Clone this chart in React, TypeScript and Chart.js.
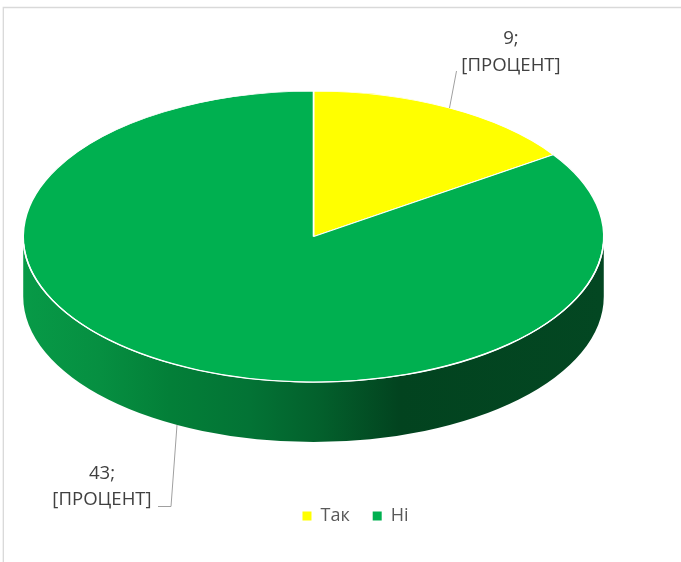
import React, { useEffect, useRef } from "react";
import { Chart, registerables } from "chart.js";

Chart.register(...registerables);

const categories = ["Так", "Ні"];
const values = [9, 43];
const sliceColors = ["#FFFF00", "#00B050"];
const percentPlaceholder = "[ПРОЦЕНТ]";

const TAU = Math.PI * 2;
const CENTER_X = 313.5;
const CENTER_Y = 236.6;
const STRETCH_X = 1.995;
const DEPTH = 60;
const PERSPECTIVE = 0.77;

const project = (a: number) => {
  const t = a + Math.PI / 2;
  let p = Math.atan2(PERSPECTIVE * Math.sin(t), Math.cos(t));
  while (p < t - Math.PI) p += TAU;
  while (p > t + Math.PI) p -= TAU;
  return p - Math.PI / 2;
};

const pie3d = {
  id: "pie3d",
  afterDatasetsUpdate(chart: any) {
    chart.getDatasetMeta(0).data.forEach((arc: any) => {
      const s = project(arc.startAngle);
      const e = project(arc.endAngle);
      arc.startAngle = s;
      arc.endAngle = e;
      arc.circumference = e - s;
    });
  },
  afterLayout(chart: any) {
    const l = chart.legend;
    l.left += 42;
    l.right += 42;
    l.top -= 3;
    l.bottom -= 3;
  },
  beforeDraw(chart: any) {
    const { ctx, width, height } = chart;
    ctx.save();
    ctx.strokeStyle = "#D9D9D9";
    ctx.lineWidth = 1.3;
    ctx.beginPath();
    ctx.moveTo(3.3, height);
    ctx.lineTo(3.3, 7.5);
    ctx.lineTo(width, 7.5);
    ctx.stroke();
    ctx.restore();
  },
  beforeDatasetsDraw(chart: any) {
    const { ctx } = chart;
    const arcs = chart.getDatasetMeta(0).data;
    const rx = arcs[0].outerRadius * STRETCH_X;
    const ry = arcs[0].outerRadius;
    const x0 = CENTER_X - rx;
    const w = rx * 2;
    const g = ctx.createLinearGradient(x0, 0, x0 + w, 0);
    const stops: [number, string][] = [
      [23, "#079A47"],
      [100, "#068F41"],
      [170, "#037F38"],
      [250, "#037335"],
      [320, "#03602C"],
      [400, "#02431F"],
      [604, "#034722"],
    ];
    stops.forEach(([x, c]) => g.addColorStop(Math.min(1, Math.max(0, (x - x0) / w)), c));
    ctx.save();
    ctx.fillStyle = g;
    ctx.beginPath();
    ctx.ellipse(CENTER_X, CENTER_Y, rx, ry, 0, 0, Math.PI);
    ctx.ellipse(CENTER_X, CENTER_Y + DEPTH, rx, ry, 0, Math.PI, 0, true);
    ctx.closePath();
    ctx.fill();
    ctx.restore();

    ctx.save();
    const a = arcs[0];
    ctx.translate(CENTER_X, CENTER_Y);
    ctx.scale(STRETCH_X, 1);
    ctx.translate(-a.x, -a.y);
  },
  afterDatasetsDraw(chart: any) {
    const { ctx } = chart;
    ctx.restore();

    const r = chart.getDatasetMeta(0).data[0].outerRadius;
    ctx.save();
    ctx.strokeStyle = "#FFFFFF";
    ctx.lineWidth = 1.4;
    ctx.beginPath();
    ctx.ellipse(CENTER_X, CENTER_Y, r * STRETCH_X, r, 0, 0.05, Math.PI - 0.05);
    ctx.stroke();

    ctx.strokeStyle = "#A0A0A0";
    ctx.lineWidth = 1;
    ctx.beginPath();
    ctx.moveTo(449.5, 108);
    ctx.lineTo(456.5, 71);
    ctx.moveTo(177, 425);
    ctx.lineTo(171, 506.5);
    ctx.lineTo(158, 506.5);
    ctx.stroke();

    ctx.fillStyle = "#404040";
    ctx.font = '18.6px "Open Sans"';
    ctx.textAlign = "center";
    ctx.textBaseline = "alphabetic";
    ctx.fillText(`${values[0]};`, 511, 44);
    ctx.fillText(percentPlaceholder, 511, 71);
    ctx.fillText(`${values[1]};`, 102, 479);
    ctx.fillText(percentPlaceholder, 102, 505);
    ctx.restore();
  },
};

export default function App() {
  const ref = useRef<HTMLCanvasElement>(null);
  useEffect(() => {
    const chart = new Chart(ref.current as HTMLCanvasElement, {
      type: "pie",
      data: {
        labels: categories,
        datasets: [
          {
            data: values,
            backgroundColor: sliceColors,
            borderColor: "#FFFFFF",
            borderWidth: 0.8,
            radius: 145.5,
            clip: false,
          } as any,
        ],
      },
      options: {
        responsive: false,
        animation: false,
        layout: { padding: { left: 23, right: 77, top: 0, bottom: 24 } },
        plugins: {
          tooltip: { enabled: false },
          legend: {
            position: "bottom",
            labels: {
              boxWidth: 9,
              boxHeight: 9,
              padding: 23,
              color: "#595959",
              font: { family: '"Open Sans"', size: 18 },
              generateLabels: (c: any) =>
                (Chart as any).overrides.doughnut.plugins.legend.labels
                  .generateLabels(c)
                  .map((l: any) => ({ ...l, lineWidth: 0 })),
            },
          },
        },
      },
      plugins: [pie3d],
    });
    return () => chart.destroy();
  }, []);
  return (
    <div style={{ position: "absolute", left: 0, top: 0, width: 681, height: 562, background: "#fff" }}>
      <canvas ref={ref} width={681} height={562} style={{ display: "block" }} />
    </div>
  );
}
